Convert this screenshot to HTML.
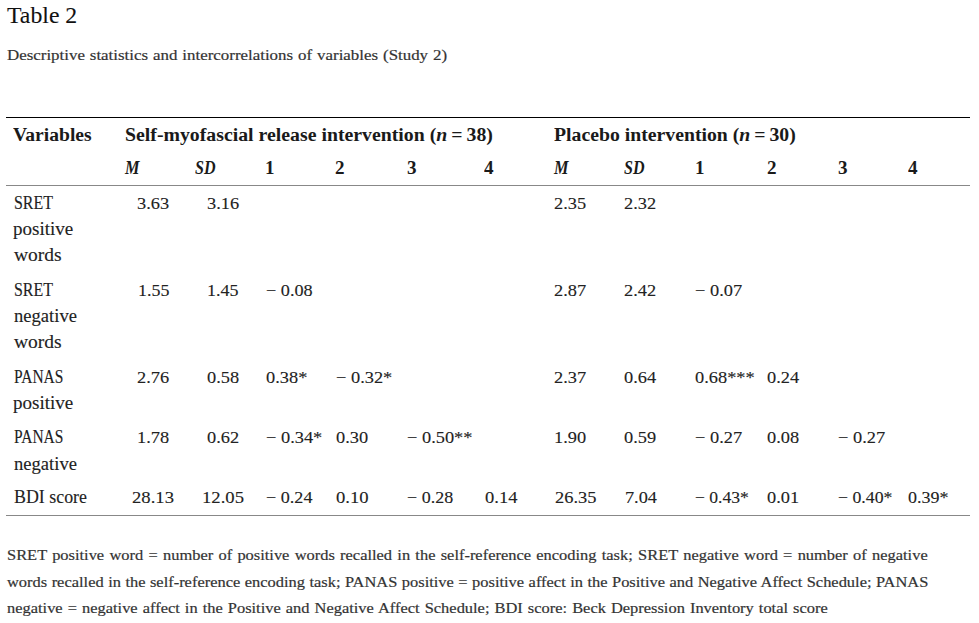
<!DOCTYPE html>
<html><head><meta charset="utf-8"><style>
html,body{margin:0;padding:0;background:#fff;width:979px;height:623px;overflow:hidden;position:relative}
div{position:absolute;white-space:pre;font-family:"Liberation Serif",serif;transform-origin:0 0}
.title{font-size:24px;line-height:26.568px;color:#111;-webkit-text-stroke:0.1px #111}
.cap{font-size:15.5px;line-height:17.159px;color:#333;-webkit-text-stroke:0.2px #333}
.hdr{font-size:18px;line-height:19.926px;color:#1a1a1a;font-weight:bold}
.hit{font-size:18px;line-height:19.926px;color:#1a1a1a;font-weight:bold;font-style:italic}
.lab{font-size:18px;line-height:19.926px;color:#222;-webkit-text-stroke:0.12px #222}
.num{font-size:17.5px;line-height:19.372px;color:#222;-webkit-text-stroke:0.12px #222}
.foot{font-size:15.5px;line-height:17.159px;color:#333;-webkit-text-stroke:0.2px #333}
.ln{left:6px;width:964px;height:1px}
</style></head><body>
<div class="ln" style="top:117px;background:#000"></div>
<div class="ln" style="top:185px;background:#888"></div>
<div class="ln" style="top:515px;background:#888"></div>
<div class="title" style="left:7.00px;top:1.61px;transform:scaleX(0.9901)">Table 2</div>
<div class="cap" style="left:7.30px;top:45.99px;transform:scaleX(1.0900);word-spacing:0.680px">Descriptive statistics and intercorrelations of variables (Study 2)</div>
<div class="hdr" style="left:13.20px;top:125.76px;transform:scaleX(1.0871)">Variables</div>
<div class="hdr" style="left:125.10px;top:125.76px;transform:scaleX(1.0995)">Self-myofascial release intervention (<i>n</i> = 38)</div>
<div class="hdr" style="left:554.40px;top:125.76px;transform:scaleX(1.0966)">Placebo intervention (<i>n</i> = 30)</div>
<div class="hit" style="left:124.77px;top:159.16px;transform:scaleX(0.9053)">M</div>
<div class="hit" style="left:195.00px;top:159.16px;transform:scaleX(0.8913)">SD</div>
<div class="hdr" style="left:265.10px;top:159.16px;transform:scaleX(1.0600)">1</div>
<div class="hdr" style="left:335.30px;top:159.16px;transform:scaleX(1.0600)">2</div>
<div class="hdr" style="left:406.50px;top:159.16px;transform:scaleX(1.0600)">3</div>
<div class="hdr" style="left:484.00px;top:159.16px;transform:scaleX(1.0600)">4</div>
<div class="hit" style="left:554.27px;top:159.16px;transform:scaleX(0.9053)">M</div>
<div class="hit" style="left:624.10px;top:159.16px;transform:scaleX(0.8913)">SD</div>
<div class="hdr" style="left:695.10px;top:159.16px;transform:scaleX(1.0600)">1</div>
<div class="hdr" style="left:766.70px;top:159.16px;transform:scaleX(1.0600)">2</div>
<div class="hdr" style="left:837.70px;top:159.16px;transform:scaleX(1.0600)">3</div>
<div class="hdr" style="left:907.80px;top:159.16px;transform:scaleX(1.0600)">4</div>
<div class="lab" style="left:13.70px;top:193.76px;transform:scaleX(0.8864)">SRET</div>
<div class="lab" style="left:13.30px;top:220.46px;transform:scaleX(1.0579)">positive</div>
<div class="lab" style="left:13.70px;top:246.46px;transform:scaleX(1.0841)">words</div>
<div class="num" style="left:136.94px;top:194.21px;transform:scaleX(1.0500)">3.63</div>
<div class="num" style="left:206.74px;top:194.21px;transform:scaleX(1.0500)">3.16</div>
<div class="num" style="left:554.40px;top:194.21px;transform:scaleX(1.0500)">2.35</div>
<div class="num" style="left:624.30px;top:194.21px;transform:scaleX(1.0500)">2.32</div>
<div class="lab" style="left:13.70px;top:280.86px;transform:scaleX(0.8864)">SRET</div>
<div class="lab" style="left:14.20px;top:307.36px;transform:scaleX(1.0328)">negative</div>
<div class="lab" style="left:13.70px;top:333.36px;transform:scaleX(1.0841)">words</div>
<div class="num" style="left:137.50px;top:281.31px;transform:scaleX(1.0261)">1.55</div>
<div class="num" style="left:207.10px;top:281.31px;transform:scaleX(1.0294)">1.45</div>
<div class="num" style="left:265.80px;top:281.31px;transform:scaleX(1.0401)">− 0.08</div>
<div class="num" style="left:554.40px;top:281.31px;transform:scaleX(1.0500)">2.87</div>
<div class="num" style="left:624.30px;top:281.31px;transform:scaleX(1.0500)">2.42</div>
<div class="num" style="left:695.10px;top:281.31px;transform:scaleX(1.0500)">− 0.07</div>
<div class="lab" style="left:14.20px;top:367.86px;transform:scaleX(0.8606)">PANAS</div>
<div class="lab" style="left:13.30px;top:393.66px;transform:scaleX(1.0579)">positive</div>
<div class="num" style="left:136.94px;top:368.31px;transform:scaleX(1.0500)">2.76</div>
<div class="num" style="left:206.74px;top:368.31px;transform:scaleX(1.0500)">0.58</div>
<div class="num" style="left:265.60px;top:368.31px;transform:scaleX(1.0500)">0.38*</div>
<div class="num" style="left:335.50px;top:368.31px;transform:scaleX(1.0500)">− 0.32*</div>
<div class="num" style="left:554.40px;top:368.31px;transform:scaleX(1.0500)">2.37</div>
<div class="num" style="left:624.30px;top:368.31px;transform:scaleX(1.0500)">0.64</div>
<div class="num" style="left:695.10px;top:368.31px;transform:scaleX(1.0500)">0.68***</div>
<div class="num" style="left:766.70px;top:368.31px;transform:scaleX(1.0500)">0.24</div>
<div class="lab" style="left:14.20px;top:427.66px;transform:scaleX(0.8606)">PANAS</div>
<div class="lab" style="left:14.20px;top:454.56px;transform:scaleX(1.0328)">negative</div>
<div class="num" style="left:136.94px;top:428.11px;transform:scaleX(1.0500)">1.78</div>
<div class="num" style="left:206.74px;top:428.11px;transform:scaleX(1.0500)">0.62</div>
<div class="num" style="left:265.60px;top:428.11px;transform:scaleX(1.0500)">− 0.34*</div>
<div class="num" style="left:335.50px;top:428.11px;transform:scaleX(1.0500)">0.30</div>
<div class="num" style="left:406.50px;top:428.11px;transform:scaleX(1.0500)">− 0.50**</div>
<div class="num" style="left:554.40px;top:428.11px;transform:scaleX(1.0500)">1.90</div>
<div class="num" style="left:624.30px;top:428.11px;transform:scaleX(1.0500)">0.59</div>
<div class="num" style="left:695.10px;top:428.11px;transform:scaleX(1.0500)">− 0.27</div>
<div class="num" style="left:766.70px;top:428.11px;transform:scaleX(1.0500)">0.08</div>
<div class="num" style="left:837.70px;top:428.11px;transform:scaleX(1.0500)">− 0.27</div>
<div class="lab" style="left:14.00px;top:487.86px;transform:scaleX(0.9932)">BDI score</div>
<div class="num" style="left:131.90px;top:488.31px;transform:scaleX(1.0660)">28.13</div>
<div class="num" style="left:201.50px;top:488.31px;transform:scaleX(1.0660)">12.05</div>
<div class="num" style="left:265.60px;top:488.31px;transform:scaleX(1.0356)">− 0.24</div>
<div class="num" style="left:335.60px;top:488.31px;transform:scaleX(1.0654)">0.10</div>
<div class="num" style="left:406.90px;top:488.31px;transform:scaleX(1.0290)">− 0.28</div>
<div class="num" style="left:484.60px;top:488.31px;transform:scaleX(1.0588)">0.14</div>
<div class="num" style="left:555.10px;top:488.31px;transform:scaleX(1.0558)">26.35</div>
<div class="num" style="left:624.80px;top:488.31px;transform:scaleX(1.0425)">7.04</div>
<div class="num" style="left:695.10px;top:488.31px;transform:scaleX(1.0056)">− 0.43*</div>
<div class="num" style="left:766.70px;top:488.31px;transform:scaleX(1.0490)">0.01</div>
<div class="num" style="left:837.70px;top:488.31px;transform:scaleX(1.0149)">− 0.40*</div>
<div class="num" style="left:907.80px;top:488.31px;transform:scaleX(1.0279)">0.39*</div>
<div class="foot" style="left:6.70px;top:546.19px;transform:scaleX(1.0600);word-spacing:1.089px">SRET positive word = number of positive words recalled in the self-reference encoding task; SRET negative word = number of negative</div>
<div class="foot" style="left:6.70px;top:572.79px;transform:scaleX(1.0600);word-spacing:0.361px">words recalled in the self-reference encoding task; PANAS positive = positive affect in the Positive and Negative Affect Schedule; PANAS</div>
<div class="foot" style="left:6.70px;top:599.49px;transform:scaleX(1.0600);word-spacing:0.885px">negative = negative affect in the Positive and Negative Affect Schedule; BDI score: Beck Depression Inventory total score</div>
</body></html>
